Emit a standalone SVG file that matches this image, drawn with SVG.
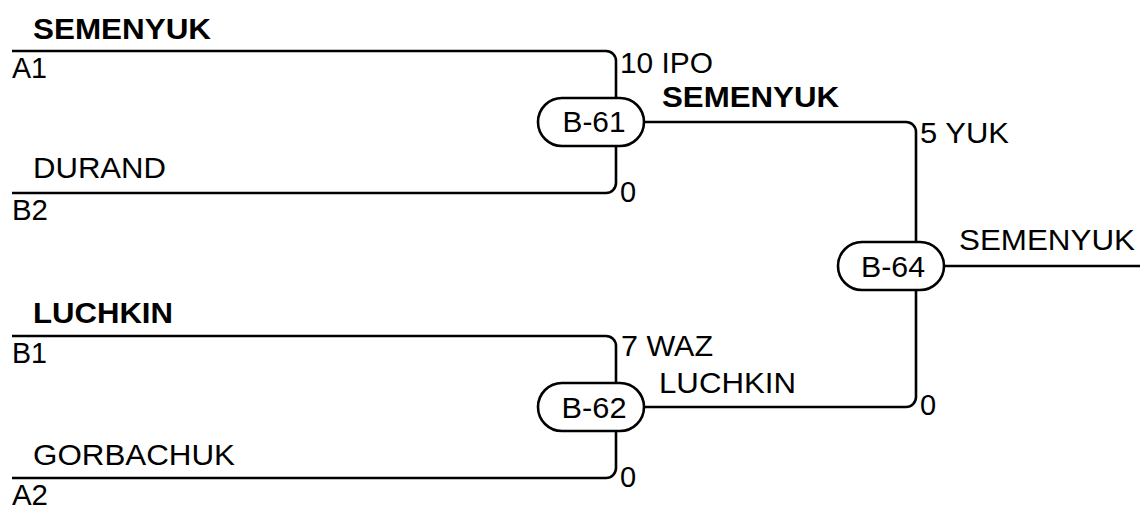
<svg xmlns="http://www.w3.org/2000/svg" width="1140" height="508" viewBox="0 0 1140 508">
<style>
text{font-family:"Liberation Sans",Arial,sans-serif;font-size:29px;fill:#000}
.b{font-weight:bold}
.m{text-anchor:middle}
.ln{fill:none;stroke:#000;stroke-width:2.6}
.pill{fill:#fff;stroke:#000;stroke-width:2.6}
</style>
<rect width="1140" height="508" fill="#fff"/>
<g id="connectors">
<path class="ln" d="M12 51 H606 A10 10 0 0 1 616 61 V98"/>
<path class="ln" d="M12 193 H606 A10 10 0 0 0 616 183 V146"/>
<path class="ln" d="M12 336 H606 A10 10 0 0 1 616 346 V383"/>
<path class="ln" d="M12 478 H606 A10 10 0 0 0 616 468 V431"/>
<path class="ln" d="M640 122 H906 A10 10 0 0 1 916 132 V242"/>
<path class="ln" d="M640 407 H906 A10 10 0 0 0 916 397 V290"/>
<path class="ln" d="M940 266 H1140"/>
</g>
<g id="entries">
<text class="b" x="33" y="39" textLength="178" lengthAdjust="spacingAndGlyphs">SEMENYUK</text>
<text x="12" y="78" textLength="35" lengthAdjust="spacingAndGlyphs">A1</text>
<text x="33" y="178" textLength="133" lengthAdjust="spacingAndGlyphs">DURAND</text>
<text x="12" y="220" textLength="36" lengthAdjust="spacingAndGlyphs">B2</text>
<text class="b" x="33" y="323" textLength="140" lengthAdjust="spacingAndGlyphs">LUCHKIN</text>
<text x="12" y="363" textLength="35" lengthAdjust="spacingAndGlyphs">B1</text>
<text x="33" y="465" textLength="202" lengthAdjust="spacingAndGlyphs">GORBACHUK</text>
<text x="12" y="505" textLength="36" lengthAdjust="spacingAndGlyphs">A2</text>
</g>
<g id="B-61">
<rect class="pill" x="538" y="98" width="106" height="48" rx="24"/>
<text class="m" x="594" y="132" textLength="63" lengthAdjust="spacingAndGlyphs">B-61</text>
<text x="620" y="73" textLength="93" lengthAdjust="spacingAndGlyphs">10 IPO</text>
<text x="620" y="202">0</text>
<text class="b" x="662" y="107" textLength="177" lengthAdjust="spacingAndGlyphs">SEMENYUK</text>
</g>
<g id="B-62">
<rect class="pill" x="538" y="383" width="106" height="48" rx="24"/>
<text class="m" x="594" y="418" textLength="65" lengthAdjust="spacingAndGlyphs">B-62</text>
<text x="621" y="356" textLength="92" lengthAdjust="spacingAndGlyphs">7 WAZ</text>
<text x="620" y="487">0</text>
<text x="659" y="393" textLength="137" lengthAdjust="spacingAndGlyphs">LUCHKIN</text>
</g>
<g id="B-64">
<rect class="pill" x="838" y="242" width="106" height="48" rx="24"/>
<text class="m" x="893" y="277" textLength="64" lengthAdjust="spacingAndGlyphs">B-64</text>
<text x="920" y="143" textLength="89" lengthAdjust="spacingAndGlyphs">5 YUK</text>
<text x="920" y="415">0</text>
<text x="959" y="250" textLength="176" lengthAdjust="spacingAndGlyphs">SEMENYUK</text>
</g>
</svg>
